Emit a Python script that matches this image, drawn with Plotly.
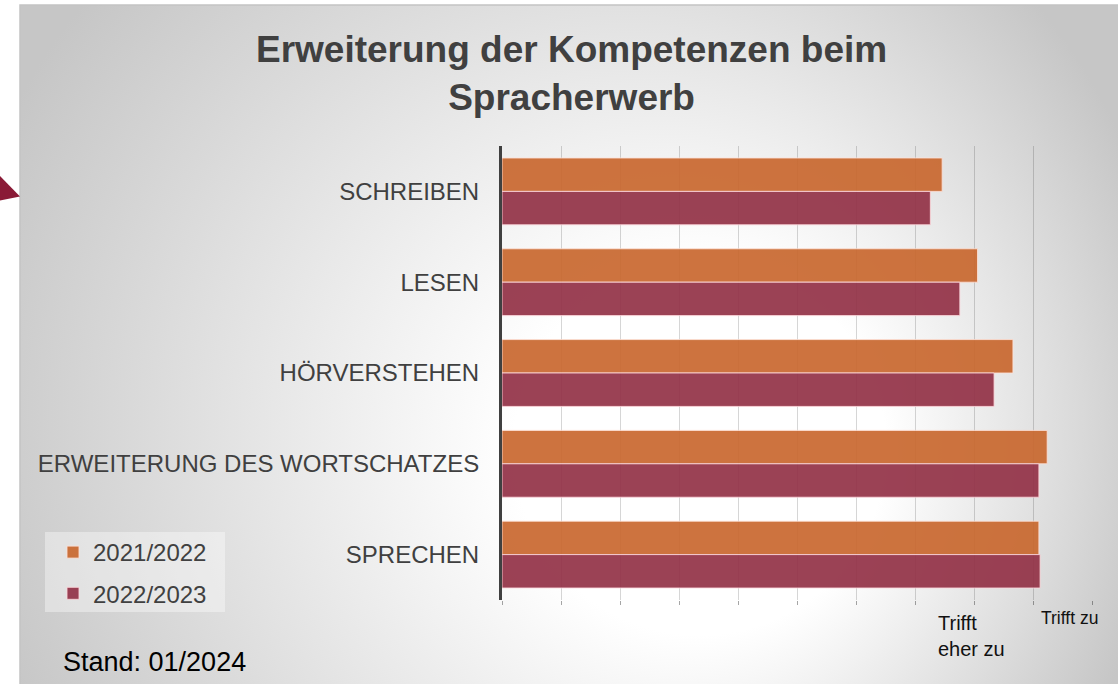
import base64
import plotly.graph_objects as go

# ---------------- data ----------------
categories = ["SCHREIBEN", "LESEN", "HÖRVERSTEHEN", "ERWEITERUNG DES WORTSCHATZES", "SPRECHEN"]
series_names = ["2021/2022", "2022/2023"]
values_2021_2022 = [3.73, 4.03, 4.33, 4.62, 4.55]
values_2022_2023 = [3.63, 3.88, 4.17, 4.55, 4.56]
tick_values = [0, 0.5, 1, 1.5, 2, 2.5, 3, 3.5, 4, 4.5, 5]
scale_labels = ["Trifft<br>eher zu", "Trifft zu"]
scale_label_values = [4, 5]
title_text = "<b>Erweiterung der Kompetenzen beim<br>Spracherwerb</b>"
footnote = "Stand: 01/2024"

W, H = 1118, 684
FONT = "Liberation Sans, Arial, sans-serif"


def px(x):
    return x / W


def py(y):
    return 1 - y / H


# radial gradient background as an SVG image
gw, gh = 1098, 679
svg = (
    f'<svg xmlns="http://www.w3.org/2000/svg" width="{gw}" height="{gh}" viewBox="0 0 {gw} {gh}" '
    f'preserveAspectRatio="none"><defs><radialGradient id="g" gradientUnits="userSpaceOnUse" '
    f'cx="540" cy="395" r="620" fx="740" fy="465">'
    f'<stop offset="0" stop-color="#ffffff"/><stop offset="0.3" stop-color="#ffffff"/>'
    f'<stop offset="1" stop-color="#c6c6c6"/></radialGradient></defs>'
    f'<rect x="0" y="0" width="{gw}" height="{gh}" fill="url(#g)"/></svg>'
)
svg_uri = "data:image/svg+xml;base64," + base64.b64encode(svg.encode()).decode()

fig = go.Figure()
fig.add_trace(go.Bar(
    y=categories, x=values_2021_2022, name=series_names[0], orientation="h",
    marker=dict(color="#c9682f", line=dict(color="rgba(255,225,215,0.85)", width=1)),
    opacity=0.92, legendgroup="a",
))
fig.add_trace(go.Bar(
    y=categories, x=values_2022_2023, name=series_names[1], orientation="h",
    marker=dict(color="#933247", line=dict(color="rgba(255,215,220,0.85)", width=1)),
    opacity=0.92, legendgroup="b",
))

fig.update_layout(
    width=W, height=H, autosize=False,
    margin=dict(l=0, r=0, t=0, b=0),
    paper_bgcolor="white", plot_bgcolor="rgba(0,0,0,0)",
    font=dict(family=FONT, color="#404040"),
    barmode="group", bargap=0.264, bargroupgap=0,
    xaxis=dict(
        domain=[px(502), px(1092)], range=[0, 5], fixedrange=True,
        tickvals=tick_values, ticktext=["" for _ in tick_values],
        showgrid=True, gridcolor="rgba(0,0,0,0.16)", gridwidth=1,
        ticks="outside", ticklen=4, tickcolor="rgba(0,0,0,0.35)", tickwidth=1,
        showline=False, zeroline=False,
    ),
    yaxis=dict(
        domain=[py(600), py(146)], autorange="reversed", fixedrange=True,
        showgrid=False, showline=True, linecolor="#404040", linewidth=3,
        ticks="", ticklabelstandoff=15,
        tickfont=dict(family=FONT, size=24, color="#404040"),
    ),
    legend=dict(
        x=px(53), y=py(530), xanchor="left", yanchor="top",
        bgcolor="rgba(0,0,0,0)", borderwidth=0,
        font=dict(family=FONT, size=24, color="#404040"),
        traceorder="grouped", tracegroupgap=7, itemwidth=30,
    ),
    showlegend=True,
)

# title
fig.add_annotation(
    x=px(571), xref="paper", y=py(73), yref="paper",
    text=title_text, showarrow=False, xanchor="center", yanchor="middle", align="center",
    font=dict(family=FONT, size=37, color="#404040"),
)

# background gradient image (chart area)
fig.add_layout_image(
    source=svg_uri, xref="paper", yref="paper",
    x=px(20), y=py(5), sizex=gw / W, sizey=gh / H,
    xanchor="left", yanchor="top", sizing="stretch", layer="below",
)

# chart frame
fig.add_shape(type="rect", xref="paper", yref="paper",
              x0=px(20), y0=py(690), x1=px(1130), y1=py(5),
              line=dict(color="#c4c4c4", width=1.5), fillcolor="rgba(0,0,0,0)", layer="below")

# legend box
fig.add_shape(type="rect", xref="paper", yref="paper",
              x0=px(45), y0=py(612), x1=px(225), y1=py(532),
              line=dict(width=0), fillcolor="rgba(255,255,255,0.38)", layer="below")

# partial arrow at left edge
fig.add_shape(type="path", xref="paper", yref="paper",
              path=f"M {px(0)},{py(176)} L {px(20)},{py(196.5)} L {px(0)},{py(200.5)} Z",
              line=dict(width=0), fillcolor="#8a1a36")

# scale labels under the value axis
fig.add_annotation(
    x=scale_label_values[0], xref="x", y=py(636), yref="paper",
    text=scale_labels[0], showarrow=False, xanchor="left", yanchor="middle", align="left",
    xshift=-38, font=dict(family=FONT, size=20, color="#111111"),
)
fig.add_annotation(
    x=scale_label_values[1], xref="x", y=py(618), yref="paper",
    text=scale_labels[1], showarrow=False, xanchor="right", yanchor="middle",
    xshift=8, font=dict(family=FONT, size=17.5, color="#111111"),
)

# footnote
fig.add_annotation(
    x=px(61), xref="paper", y=py(662), yref="paper",
    text=footnote, showarrow=False, xanchor="left", yanchor="middle",
    font=dict(family=FONT, size=27, color="#000000"),
)

fig.write_html(
    "out.html",
    config={"displayModeBar": False},
    post_script="document.body.style.margin='0';document.body.style.overflow='hidden';",
)
